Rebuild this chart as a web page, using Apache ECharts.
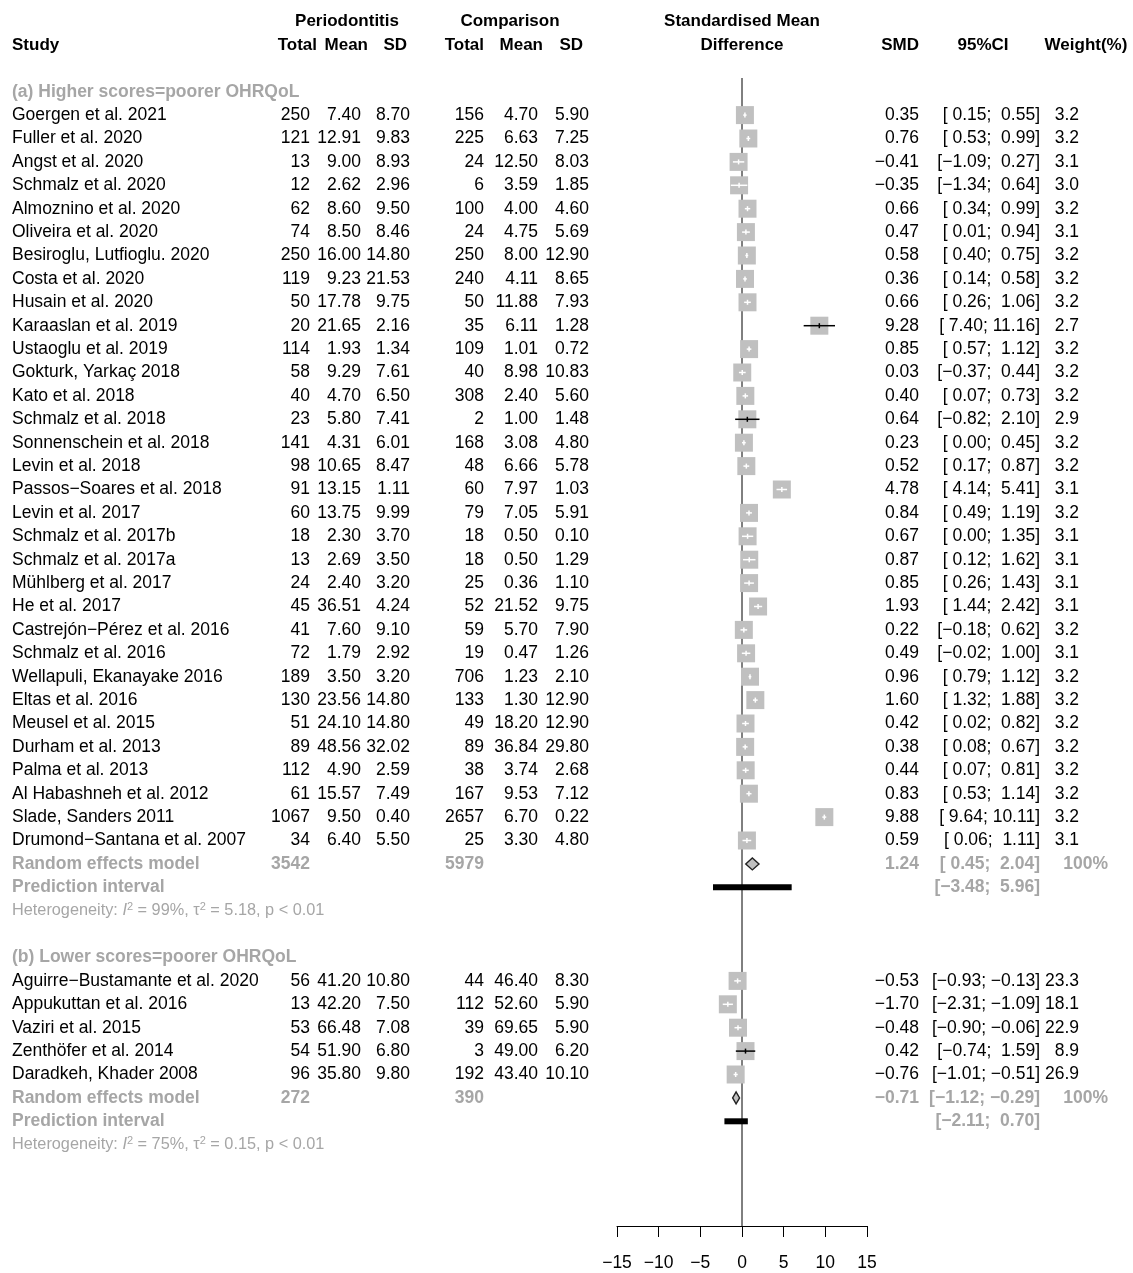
<!DOCTYPE html>
<html>
<head>
<meta charset="utf-8">
<script src="https://cdn.jsdelivr.net/npm/echarts@6/dist/echarts.min.js"></script>
<style>
  html, body { margin: 0; padding: 0; background: #fff; }
  #chart { width: 1133px; height: 1273px; }
</style>
</head>
<body>
<div id="chart"></div>
<script>
// ---------- (a) Higher scores = poorer OHRQoL ----------
const studiesA = [
  'Goergen et al. 2021', 'Fuller et al. 2020', 'Angst et al. 2020', 'Schmalz et al. 2020',
  'Almoznino et al. 2020', 'Oliveira et al. 2020', 'Besiroglu, Lutfioglu. 2020', 'Costa et al. 2020',
  'Husain et al. 2020', 'Karaaslan et al. 2019', 'Ustaoglu et al. 2019', 'Gokturk, Yarkaç 2018',
  'Kato et al. 2018', 'Schmalz et al. 2018', 'Sonnenschein et al. 2018', 'Levin et al. 2018',
  'Passos\u2212Soares et al. 2018', 'Levin et al. 2017', 'Schmalz et al. 2017b', 'Schmalz et al. 2017a',
  'Mühlberg et al. 2017', 'He et al. 2017', 'Castrejón\u2212Pérez et al. 2016', 'Schmalz et al. 2016',
  'Wellapuli, Ekanayake 2016', 'Eltas et al. 2016', 'Meusel et al. 2015', 'Durham et al. 2013',
  'Palma et al. 2013', 'Al Habashneh et al. 2012', 'Slade, Sanders 2011', 'Drumond\u2212Santana et al. 2007'
];
const totalPerioA = [250, 121, 13, 12, 62, 74, 250, 119, 50, 20, 114, 58, 40, 23, 141, 98,
  91, 60, 18, 13, 24, 45, 41, 72, 189, 130, 51, 89, 112, 61, 1067, 34];
const meanPerioA = [7.40, 12.91, 9.00, 2.62, 8.60, 8.50, 16.00, 9.23, 17.78, 21.65, 1.93, 9.29,
  4.70, 5.80, 4.31, 10.65, 13.15, 13.75, 2.30, 2.69, 2.40, 36.51, 7.60, 1.79, 3.50, 23.56,
  24.10, 48.56, 4.90, 15.57, 9.50, 6.40];
const sdPerioA = [8.70, 9.83, 8.93, 2.96, 9.50, 8.46, 14.80, 21.53, 9.75, 2.16, 1.34, 7.61,
  6.50, 7.41, 6.01, 8.47, 1.11, 9.99, 3.70, 3.50, 3.20, 4.24, 9.10, 2.92, 3.20, 14.80,
  14.80, 32.02, 2.59, 7.49, 0.40, 5.50];
const totalCompA = [156, 225, 24, 6, 100, 24, 250, 240, 50, 35, 109, 40, 308, 2, 168, 48,
  60, 79, 18, 18, 25, 52, 59, 19, 706, 133, 49, 89, 38, 167, 2657, 25];
const meanCompA = [4.70, 6.63, 12.50, 3.59, 4.00, 4.75, 8.00, 4.11, 11.88, 6.11, 1.01, 8.98,
  2.40, 1.00, 3.08, 6.66, 7.97, 7.05, 0.50, 0.50, 0.36, 21.52, 5.70, 0.47, 1.23, 1.30,
  18.20, 36.84, 3.74, 9.53, 6.70, 3.30];
const sdCompA = [5.90, 7.25, 8.03, 1.85, 4.60, 5.69, 12.90, 8.65, 7.93, 1.28, 0.72, 10.83,
  5.60, 1.48, 4.80, 5.78, 1.03, 5.91, 0.10, 1.29, 1.10, 9.75, 7.90, 1.26, 2.10, 12.90,
  12.90, 29.80, 2.68, 7.12, 0.22, 4.80];
const smdA = [0.35, 0.76, -0.41, -0.35, 0.66, 0.47, 0.58, 0.36, 0.66, 9.28, 0.85, 0.03,
  0.40, 0.64, 0.23, 0.52, 4.78, 0.84, 0.67, 0.87, 0.85, 1.93, 0.22, 0.49, 0.96, 1.60,
  0.42, 0.38, 0.44, 0.83, 9.88, 0.59];
const lowerA = [0.15, 0.53, -1.09, -1.34, 0.34, 0.01, 0.40, 0.14, 0.26, 7.40, 0.57, -0.37,
  0.07, -0.82, 0.00, 0.17, 4.14, 0.49, 0.00, 0.12, 0.26, 1.44, -0.18, -0.02, 0.79, 1.32,
  0.02, 0.08, 0.07, 0.53, 9.64, 0.06];
const upperA = [0.55, 0.99, 0.27, 0.64, 0.99, 0.94, 0.75, 0.58, 1.06, 11.16, 1.12, 0.44,
  0.73, 2.10, 0.45, 0.87, 5.41, 1.19, 1.35, 1.62, 1.43, 2.42, 0.62, 1.00, 1.12, 1.88,
  0.82, 0.67, 0.81, 1.14, 10.11, 1.11];
const weightA = [3.2, 3.2, 3.1, 3.0, 3.2, 3.1, 3.2, 3.2, 3.2, 2.7, 3.2, 3.2, 3.2, 2.9, 3.2, 3.2,
  3.1, 3.2, 3.1, 3.1, 3.1, 3.1, 3.2, 3.1, 3.2, 3.2, 3.2, 3.2, 3.2, 3.2, 3.2, 3.1];
const pooledA = [1.24, 0.45, 2.04];      // SMD, lower, upper
const predictionA = [-3.48, 5.96];
const totalsA = [3542, 5979];
const hetA = ['99%', '5.18', '< 0.01'];  // I², tau², p

// ---------- (b) Lower scores = poorer OHRQoL ----------
const studiesB = ['Aguirre\u2212Bustamante et al. 2020', 'Appukuttan et al. 2016', 'Vaziri et al. 2015',
  'Zenthöfer et al. 2014', 'Daradkeh, Khader 2008'];
const totalPerioB = [56, 13, 53, 54, 96];
const meanPerioB = [41.20, 42.20, 66.48, 51.90, 35.80];
const sdPerioB = [10.80, 7.50, 7.08, 6.80, 9.80];
const totalCompB = [44, 112, 39, 3, 192];
const meanCompB = [46.40, 52.60, 69.65, 49.00, 43.40];
const sdCompB = [8.30, 5.90, 5.90, 6.20, 10.10];
const smdB = [-0.53, -1.70, -0.48, 0.42, -0.76];
const lowerB = [-0.93, -2.31, -0.90, -0.74, -1.01];
const upperB = [-0.13, -1.09, -0.06, 1.59, -0.51];
const weightB = [23.3, 18.1, 22.9, 8.9, 26.9];
const pooledB = [-0.71, -1.12, -0.29];
const predictionB = [-2.11, 0.70];
const totalsB = [272, 390];
const hetB = ['75%', '0.15', '< 0.01'];

// x-axis ticks of the SMD panel
const axisTicks = [-15, -10, -5, 0, 5, 10, 15];

// ---------- layout ----------
const W = 1133, H = 1273;
const ROW0 = 21.5, ROW_H = 23.4;        // y of first text line, line spacing
const PANEL_TOP = 78, AXIS_Y = 1226;    // reference line top, x-axis line
const yMin = (PANEL_TOP - ROW0) / ROW_H;
const yMax = (AXIS_Y - ROW0) / ROW_H;
const FONT = '"Liberation Sans", Arial, Helvetica, sans-serif';
const FS = 17.5, FS_HEAD = 17, FS_HET = 16.3;
const BLACK = '#000000', GREY = '#a6a6a6', BOX_FILL = '#c0c0c0';
const BOX = 18;

const X = { study: 12, nE: 310, mE: 361, sE: 410, nC: 484, mC: 538, sC: 589,
            smd: 919, ci: 1040, w: 1079, wTot: 1108 };

const minus = s => s.replace('-', '\u2212');
const f2 = v => minus(v.toFixed(2));
const ciText = (lo, hi) => '[' + f2(lo).padStart(5, ' ') + '; ' + f2(hi).padStart(5, ' ') + ']';

const textRows = [];
const studyPts = [];
const diamonds = [];
const predBars = [];

function c(text, x, align, opt) { return Object.assign({ text, x, align }, opt || {}); }

// column headers
const hd = { bold: true, size: FS_HEAD };
textRows.push({ k: 0, cells: [
  c('Periodontitis', 347, 'center', hd),
  c('Comparison', 510, 'center', hd),
  c('Standardised Mean', 742, 'center', hd)
]});
textRows.push({ k: 1, cells: [
  c('Study', X.study, 'left', hd),
  c('Total', 317, 'right', hd),
  c('Mean', 368, 'right', hd),
  c('SD', 407, 'right', hd),
  c('Total', 484, 'right', hd),
  c('Mean', 543, 'right', hd),
  c('SD', 583, 'right', hd),
  c('Difference', 742, 'center', hd),
  c('SMD', 919, 'right', hd),
  c('95%CI', 983, 'center', hd),
  c('Weight(%)', 1086, 'center', hd)
]});

function addGroup(k0, label, names, nE, mE, sE, nC, mC, sC, smd, lo, hi, w, pooled, pred, totals, het) {
  textRows.push({ k: k0, cells: [c(label, X.study, 'left', { bold: true, color: GREY })] });
  names.forEach((name, i) => {
    const k = k0 + 1 + i;
    textRows.push({ k, cells: [
      c(name, X.study, 'left'),
      c(String(nE[i]), X.nE, 'right'),
      c(mE[i].toFixed(2), X.mE, 'right'),
      c(sE[i].toFixed(2), X.sE, 'right'),
      c(String(nC[i]), X.nC, 'right'),
      c(mC[i].toFixed(2), X.mC, 'right'),
      c(sC[i].toFixed(2), X.sC, 'right'),
      c(f2(smd[i]), X.smd, 'right'),
      c(ciText(lo[i], hi[i]), X.ci, 'right'),
      c(w[i].toFixed(1), X.w, 'right')
    ]});
    studyPts.push([smd[i], k, lo[i], hi[i]]);
  });
  const kR = k0 + 1 + names.length;
  const g = { bold: true, color: GREY };
  textRows.push({ k: kR, cells: [
    c('Random effects model', X.study, 'left', g),
    c(String(totals[0]), X.nE, 'right', g),
    c(String(totals[1]), X.nC, 'right', g),
    c(f2(pooled[0]), X.smd, 'right', g),
    c(ciText(pooled[1], pooled[2]), X.ci, 'right', g),
    c('100%', X.wTot, 'right', g)
  ]});
  diamonds.push([pooled[0], kR, pooled[1], pooled[2]]);
  textRows.push({ k: kR + 1, cells: [
    c('Prediction interval', X.study, 'left', g),
    c(ciText(pred[0], pred[1]), X.ci, 'right', g)
  ]});
  predBars.push([pred[0], kR + 1, pred[1]]);
  textRows.push({ k: kR + 2, cells: [
    c('Heterogeneity: {i|I}{s|2} = ' + het[0] + ', \u03c4{s|2} = ' + het[1] + ', p ' + het[2],
      X.study, 'left', { color: GREY, het: true })
  ]});
}

addGroup(3, '(a) Higher scores=poorer OHRQoL', studiesA, totalPerioA, meanPerioA, sdPerioA,
  totalCompA, meanCompA, sdCompA, smdA, lowerA, upperA, weightA, pooledA, predictionA, totalsA, hetA);
addGroup(40, '(b) Lower scores=poorer OHRQoL', studiesB, totalPerioB, meanPerioB, sdPerioB,
  totalCompB, meanCompB, sdCompB, smdB, lowerB, upperB, weightB, pooledB, predictionB, totalsB, hetB);

// ---------- render functions ----------
function renderText(params, api) {
  const row = textRows[params.dataIndex];
  const y = api.coord([0, api.value(1)])[1];
  return {
    type: 'group',
    children: row.cells.map(cell => {
      const fill = cell.color || BLACK;
      const size = cell.het ? FS_HET : (cell.size || FS);
      const style = {
        text: cell.text,
        fill,
        fontFamily: FONT,
        fontSize: size,
        fontWeight: cell.bold ? 'bold' : 'normal',
        align: cell.align,
        verticalAlign: 'middle'
      };
      if (cell.het) {
        style.lineHeight = 18;
        style.rich = {
          i: { fontStyle: 'italic', fontSize: FS_HET, fontFamily: FONT, fill, lineHeight: 18 },
          s: { fontSize: 11, fontFamily: FONT, fill, verticalAlign: 'top', lineHeight: 18 }
        };
      }
      return { type: 'text', x: cell.x, y: y, style };
    })
  };
}

function renderStudy(params, api) {
  const p = api.coord([api.value(0), api.value(1)]);
  const xl = api.coord([api.value(2), api.value(1)])[0];
  const xh = api.coord([api.value(3), api.value(1)])[0];
  const half = BOX / 2;
  const wide = (p[0] - xl > half) || (xh - p[0] > half);
  const col = wide ? BLACK : '#ffffff';
  return {
    type: 'group',
    children: [
      { type: 'rect', shape: { x: p[0] - half, y: p[1] - half, width: BOX, height: BOX },
        style: { fill: BOX_FILL } },
      { type: 'line', shape: { x1: xl, y1: p[1], x2: xh, y2: p[1] },
        style: { stroke: col, lineWidth: 1.5 } },
      { type: 'line', shape: { x1: p[0], y1: p[1] - 2.5, x2: p[0], y2: p[1] + 2.5 },
        style: { stroke: col, lineWidth: 1.5 } }
    ]
  };
}

function renderDiamond(params, api) {
  const p = api.coord([api.value(0), api.value(1)]);
  const xl = api.coord([api.value(2), api.value(1)])[0];
  const xh = api.coord([api.value(3), api.value(1)])[0];
  const h = 6;
  return {
    type: 'polygon',
    shape: { points: [[xl, p[1]], [p[0], p[1] - h], [xh, p[1]], [p[0], p[1] + h]] },
    style: { fill: BOX_FILL, stroke: '#222', lineWidth: 1.4 }
  };
}

function renderPred(params, api) {
  const a = api.coord([api.value(0), api.value(1)]);
  const b = api.coord([api.value(2), api.value(1)]);
  return {
    type: 'rect',
    shape: { x: a[0], y: a[1] - 3, width: b[0] - a[0], height: 6 },
    style: { fill: BLACK }
  };
}

const chart = echarts.init(document.getElementById('chart'), null, { renderer: 'canvas' });
chart.setOption({
  animation: false,
  backgroundColor: '#ffffff',
  grid: { left: 617, right: W - 867, top: PANEL_TOP, bottom: H - AXIS_Y, containLabel: false },
  xAxis: {
    type: 'value',
    min: axisTicks[0],
    max: axisTicks[axisTicks.length - 1],
    interval: axisTicks[1] - axisTicks[0],
    axisLine: { show: true, onZero: false, lineStyle: { color: BLACK, width: 1 } },
    axisTick: { show: true, length: 11, lineStyle: { color: BLACK, width: 1 } },
    axisLabel: { color: BLACK, fontFamily: FONT, fontSize: 17.5, margin: 28,
      formatter: v => minus(String(v)) },
    splitLine: { show: false }
  },
  yAxis: { type: 'value', min: yMin, max: yMax, inverse: true, show: false },
  series: [
    {
      type: 'line', silent: true, symbol: 'none', z: 1,
      data: [[0, yMin], [0, yMax]],
      lineStyle: { color: BLACK, width: 1 }
    },
    { type: 'custom', renderItem: renderPred, data: predBars, z: 2, silent: true },
    { type: 'custom', renderItem: renderStudy, data: studyPts, z: 3, silent: true },
    { type: 'custom', renderItem: renderDiamond, data: diamonds, z: 3, silent: true },
    { type: 'custom', renderItem: renderText, data: textRows.map(r => [0, r.k]), z: 4, silent: true, clip: false }
  ]
});
</script>
</body>
</html>
